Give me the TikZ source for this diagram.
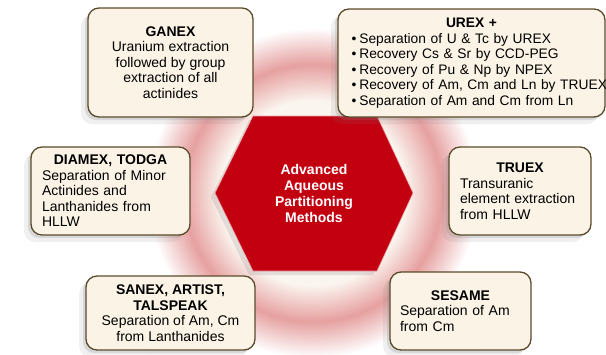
\documentclass[tikz,border=0pt]{standalone}
\usepackage{fontspec}
\setmainfont{Liberation Sans}
\usetikzlibrary{shadows}
\definecolor{Bf}{HTML}{FBF4E6}
\definecolor{Bl}{HTML}{5A4B2C}
\definecolor{Hr}{HTML}{C20010}
\definecolor{Rg}{HTML}{E6A0A0}
\definecolor{Ci}{HTML}{FBF5EF}
\pgfdeclareradialshading{glow}{\pgfpoint{0bp}{0bp}}{color(0bp)=(Ci); color(14bp)=(Ci); color(19.5bp)=(Rg); color(25bp)=(white); color(50bp)=(white)}
\newcommand{\boxtitle}[1]{\makebox[\hsize]{\bfseries #1}}
\newcommand{\itm}{\textbullet\kern3pt}

\begin{document}
\begin{tikzpicture}[x=1pt, y=-1pt, font=\fontsize{14}{15.5}\selectfont,
    card/.style={draw=Bl, fill=Bf, line width=1.3pt, rounded corners=11pt, inner sep=0pt,
      drop shadow={shadow xshift=-3pt, shadow yshift=-3pt, opacity=.22},
      drop shadow={shadow xshift=-7pt, shadow yshift=-7pt, opacity=.12}},
    hexa/.style={fill=Hr, draw=Hr!35!white, line width=.6pt,
      drop shadow={shadow xshift=-4pt, shadow yshift=-4pt, opacity=.2}}]
  \useasboundingbox (0,0) rectangle (606,354);
  \fill[shading=glow] (148,28) rectangle (478,358);
  % centre
  \path[hexa] (253,116) -- (377,116) -- (413,193) -- (377,271) -- (253,271) -- (215,193) -- cycle;
  \node[text=white, font=\bfseries\fontsize{14}{16}\selectfont, align=center] (core) at (314,193)
    {Advanced\\Aqueous\\Partitioning\\Methods};
  % left column
  \node[card, minimum width=165pt, minimum height=109pt, align=center] (ganex) at (170.5,62.5)
    {\textbf{GANEX}\\Uranium extraction\\followed by group\\extraction of all\\actinides};
  \node[card, minimum width=159pt, minimum height=88pt, text width=137pt, align=left] (diamex) at (110.5,191)
    {\boxtitle{DIAMEX, TODGA}\\Separation of Minor\\Actinides and\\Lanthanides from\\HLLW};
  \node[card, minimum width=169pt, minimum height=74pt, align=center] (sanex) at (170.5,313)
    {\textbf{SANEX, ARTIST,}\\\textbf{TALSPEAK}\\Separation of Am, Cm\\from Lanthanides};
  % right column
  \node[card, minimum width=267pt, minimum height=108pt, text width=240pt, align=left,
    font=\fontsize{13.8}{15.5}\selectfont] (urex) at (471.5,63)
    {\boxtitle{UREX +}\\\itm Separation of U \& Tc by UREX\\\itm Recovery Cs \& Sr by CCD-PEG\\
     \itm Recovery of Pu \& Np by NPEX\\\mbox{\itm Recovery of Am, Cm and Ln by TRUEX}\\
     \itm Separation of Am and Cm from Ln};
  \node[card, minimum width=142pt, minimum height=88pt, text width=120pt, align=left] (truex) at (520,191)
    {\boxtitle{TRUEX}\\Transuranic\\element extraction\\from HLLW};
  \node[card, minimum width=141pt, minimum height=78pt, text width=121pt, align=left] (sesame) at (460.5,311)
    {\boxtitle{SESAME}\\Separation of Am\\from Cm};
\end{tikzpicture}
\end{document}
